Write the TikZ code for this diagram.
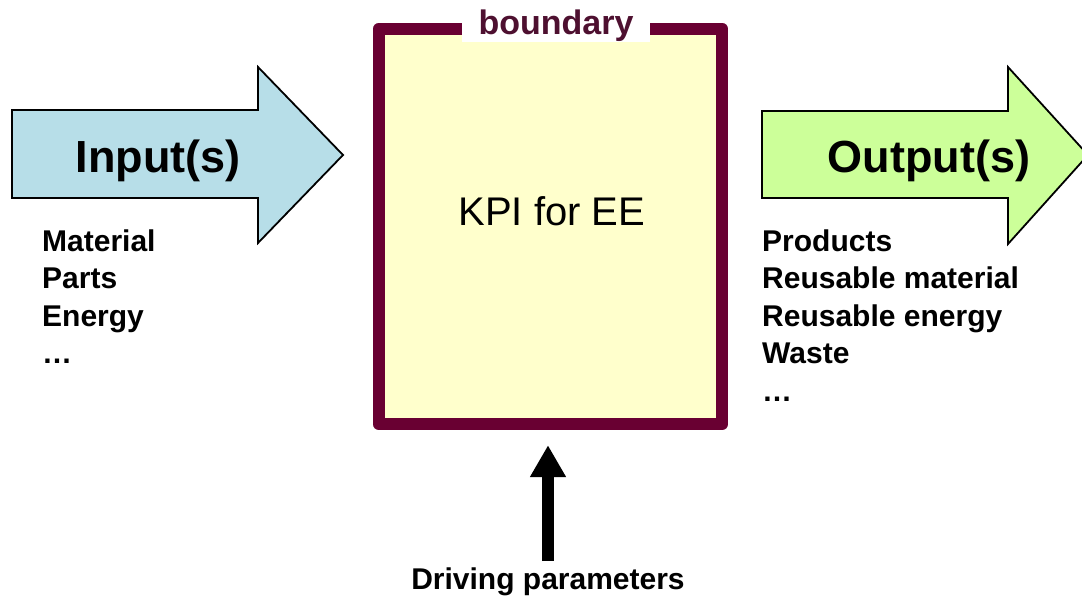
\documentclass[tikz,border=0pt]{standalone}
\usepackage{fontspec}
\setmainfont{Liberation Sans}
\usetikzlibrary{arrows.meta}
\definecolor{inblue}{HTML}{B7DEE8}
\definecolor{outgreen}{HTML}{CCFF99}
\definecolor{boxyellow}{HTML}{FFFFCC}
\definecolor{maroon}{HTML}{690032}
\definecolor{labelmaroon}{HTML}{4E1030}
\tikzset{
  bigarrow/.style={draw=black, line width=1.8pt, line join=miter},
  bigtext/.style={font=\fontsize{45}{50}\selectfont\bfseries, anchor=base, inner sep=0pt},
  listtext/.style={font=\fontsize{30}{37.5}\selectfont\bfseries, align=left, anchor=north west, inner sep=0pt},
  border/.style={draw=maroon, line width=12pt, line join=round},
}
\begin{document}
\begin{tikzpicture}[x=1pt,y=-1pt]
\useasboundingbox (0,0) rectangle (1082,597);
% input arrow
\draw[bigarrow, fill=inblue] (12,110) -- (258,110) -- (258,67) -- (343,155) -- (258,243) -- (258,198) -- (12,198) -- cycle;
\node[bigtext] (in) at (158,172) {Input(s)};
\node[listtext] (inlist) at (42,229.5) {Material\\Parts\\Energy\\…};
% output arrow
\draw[bigarrow, fill=outgreen] (762,111) -- (1008,111) -- (1008,67) -- (1088,155) -- (1008,244) -- (1008,198) -- (762,198) -- cycle;
\node[bigtext] (out) at (929,172) {Output(s)};
\node[listtext] (outlist) at (762,229.5) {Products\\Reusable material\\Reusable energy\\Waste\\…};
% system box
\node[fill=boxyellow, minimum width=343pt, minimum height=395pt, inner sep=0pt] (box) at (550.5,226.5) {};
\draw[border] (box.north west) rectangle (box.south east);
\node[fill=white, minimum width=188pt, minimum height=30pt, inner sep=0pt,
      font=\fontsize{34}{38}\selectfont\bfseries, text=labelmaroon] (lbl) at (556,26) {boundary};
\node[font=\fontsize{40}{44}\selectfont, anchor=base, inner sep=0pt] (kpi) at (552,225) {KPI for EE};
% driving parameters
\node[font=\fontsize{30}{34}\selectfont\bfseries, anchor=base, inner sep=0pt] (drv) at (548,589) {Driving parameters};
\draw[line width=12pt, -{Triangle[width=34pt,length=32pt]}, shorten <=6pt, shorten >=21pt]
  (drv.north) -- (drv.north |- box.south);
\end{tikzpicture}
\end{document}
